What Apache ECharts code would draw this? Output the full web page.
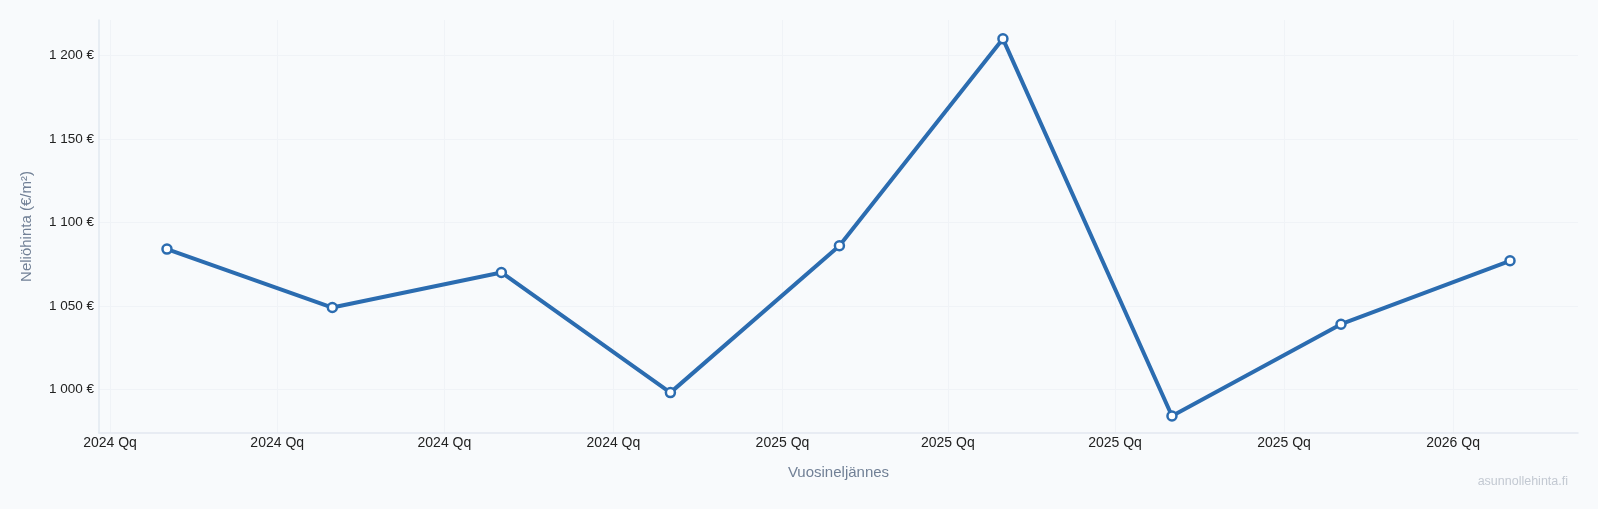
<!DOCTYPE html>
<html>
<head>
<meta charset="utf-8">
<script src="https://cdn.jsdelivr.net/npm/echarts@6/dist/echarts.min.js"></script>
<style>
html,body{margin:0;padding:0;background:#f8fafc;}
#chart{width:1598px;height:509px;}
</style>
</head>
<body>
<div id="chart"></div>
<script>
// Data
const dates = ['2024-02-01','2024-05-01','2024-08-01','2024-11-01','2025-02-01','2025-05-01','2025-08-01','2025-11-01','2026-02-01'];
const prices = [1084, 1049, 1070, 998, 1086, 1210, 984, 1039, 1077];
const xTickDates = ['2024-01-01','2024-04-01','2024-07-01','2024-10-01','2025-01-01','2025-04-01','2025-07-01','2025-10-01','2026-01-01'];
const yTicks = [1000, 1050, 1100, 1150, 1200];
const xRange = ['2023-12-26', '2026-03-10'];
const yRange = [973.8, 1221.3];

const ts = s => Date.parse(s + 'T00:00:00Z');
const fmtEur = v => String(Math.round(v)).replace(/\B(?=(\d{3})+(?!\d))/g, ' ') + ' €';

const chart = echarts.init(document.getElementById('chart'), null, {renderer: 'canvas'});
chart.setOption({
  backgroundColor: '#f8fafc',
  animation: false,
  textStyle: {fontFamily: '"Liberation Sans", Arial, sans-serif'},
  grid: {left: 99, right: 20, top: 20, bottom: 76, containLabel: false},
  xAxis: {
    type: 'value',
    min: ts(xRange[0]),
    max: ts(xRange[1]),
    name: 'Vuosineljännes',
    nameLocation: 'middle',
    nameGap: 32,
    nameTextStyle: {color: '#718096', fontSize: 15},
    axisLine: {show: true, lineStyle: {color: '#e2e8f0', width: 1.5}},
    axisTick: {show: false, customValues: xTickDates.map(ts)},
    axisLabel: {
      customValues: xTickDates.map(ts),
      color: '#222',
      fontSize: 14,
      margin: 3,
      formatter: v => new Date(v).getUTCFullYear() + ' Qq'
    },
    splitLine: {show: true, lineStyle: {color: '#f0f3f7', width: 1}}
  },
  yAxis: {
    type: 'value',
    min: yRange[0],
    max: yRange[1],
    name: 'Neliöhinta (€/m²)',
    nameLocation: 'middle',
    nameGap: 65,
    nameRotate: 90,
    nameTextStyle: {color: '#718096', fontSize: 15},
    axisLine: {show: true, lineStyle: {color: '#e2e8f0', width: 1.5}},
    axisTick: {show: false, customValues: yTicks},
    axisLabel: {
      customValues: yTicks,
      color: '#222',
      fontSize: 13.5,
      margin: 5,
      formatter: v => fmtEur(v)
    },
    splitLine: {show: true, lineStyle: {color: '#f0f3f7', width: 1}}
  },
  graphic: [{
    type: 'text',
    right: 30,
    top: 475,
    style: {text: 'asunnollehinta.fi', fill: '#c3c9d2', font: '12.5px "Liberation Sans", Arial, sans-serif'}
  }],
  series: [{
    type: 'line',
    data: dates.map((d, i) => [ts(d), prices[i]]),
    symbol: 'circle',
    symbolSize: 9,
    lineStyle: {color: '#2b6cb0', width: 4},
    itemStyle: {color: '#ffffff', borderColor: '#2b6cb0', borderWidth: 2.5},
    emphasis: {disabled: true}
  }]
});
</script>
</body>
</html>
